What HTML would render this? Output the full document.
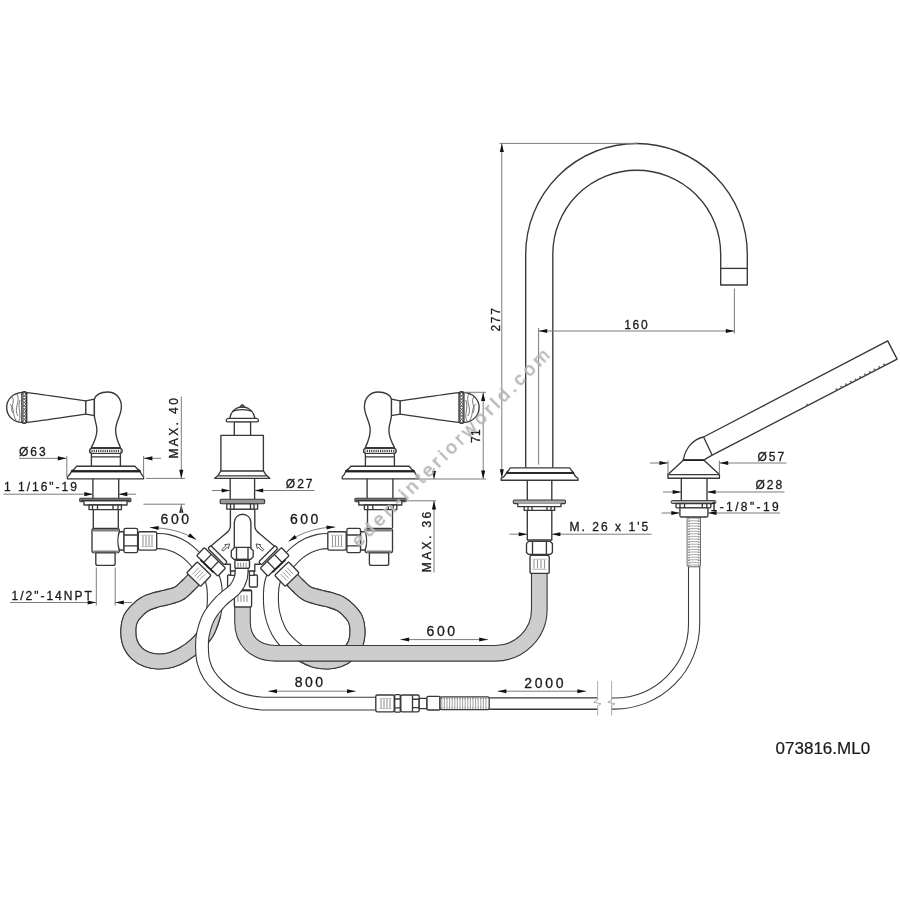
<!DOCTYPE html>
<html><head><meta charset="utf-8"><title>073816.ML0</title>
<style>
html,body{margin:0;padding:0;background:#fff}
body{width:900px;height:900px;overflow:hidden}
svg{display:block}
svg text{font-family:"Liberation Sans",sans-serif;fill:#1a1a1a;stroke:#1a1a1a;stroke-width:.3px}
.k{fill:none;stroke:#383838;stroke-width:1.35;stroke-linejoin:round;stroke-linecap:butt}
.w{fill:#fff}
.d{fill:none;stroke:#7c7c7c;stroke-width:1}
</style></head><body>
<svg width="900" height="900" viewBox="0 0 900 900">
<rect width="900" height="900" fill="#fff"/>
<g id="loopL">
<path d="M156.0,541.0 C157.8,541.1 163.0,541.0 166.7,541.8 C170.4,542.6 174.4,543.8 178.0,545.6 C181.6,547.4 185.3,549.9 188.5,552.5 C191.7,555.1 194.2,557.8 197.0,561.0 C199.8,564.2 203.7,570.2 205.0,572.0" fill="none" stroke="#383838" stroke-width="16.30" stroke-linecap="butt" stroke-linejoin="round"/><path d="M156.0,541.0 C157.8,541.1 163.0,541.0 166.7,541.8 C170.4,542.6 174.4,543.8 178.0,545.6 C181.6,547.4 185.3,549.9 188.5,552.5 C191.7,555.1 194.2,557.8 197.0,561.0 C199.8,564.2 203.7,570.2 205.0,572.0" fill="none" stroke="#fff" stroke-width="14.10" stroke-linecap="butt" stroke-linejoin="round"/>

<path d="M196.5,576.5 C195.1,578.0 191.0,582.7 188.0,585.5 C185.0,588.3 182.4,591.5 178.7,593.5 C175.0,595.5 169.9,596.4 166.0,597.5 C162.1,598.6 159.0,598.9 155.5,600.0 C152.0,601.1 148.0,602.3 145.0,604.0 C142.0,605.7 139.9,607.5 137.5,610.0 C135.1,612.5 132.0,615.7 130.5,619.0 C129.0,622.3 128.4,626.0 128.3,630.0 C128.2,634.0 128.6,639.1 130.0,643.0 C131.4,646.9 134.2,650.8 137.0,653.5 C139.8,656.2 143.5,658.2 147.0,659.5 C150.5,660.8 154.0,661.4 158.0,661.5 C162.0,661.6 166.8,661.2 171.0,660.0 C175.2,658.8 179.0,657.0 183.2,654.5 C187.4,652.0 192.0,648.8 196.0,645.0 C200.0,641.2 204.1,636.8 207.0,631.5 C209.9,626.2 212.3,619.4 213.6,613.0 C214.9,606.6 215.0,598.7 214.8,593.0 C214.6,587.3 214.0,583.2 212.5,579.0 C211.0,574.8 207.1,569.8 206.0,568.0" fill="none" stroke="#383838" stroke-width="16.10" stroke-linecap="butt" stroke-linejoin="round"/><path d="M196.5,576.5 C195.1,578.0 191.0,582.7 188.0,585.5 C185.0,588.3 182.4,591.5 178.7,593.5 C175.0,595.5 169.9,596.4 166.0,597.5 C162.1,598.6 159.0,598.9 155.5,600.0 C152.0,601.1 148.0,602.3 145.0,604.0 C142.0,605.7 139.9,607.5 137.5,610.0 C135.1,612.5 132.0,615.7 130.5,619.0 C129.0,622.3 128.4,626.0 128.3,630.0 C128.2,634.0 128.6,639.1 130.0,643.0 C131.4,646.9 134.2,650.8 137.0,653.5 C139.8,656.2 143.5,658.2 147.0,659.5 C150.5,660.8 154.0,661.4 158.0,661.5 C162.0,661.6 166.8,661.2 171.0,660.0 C175.2,658.8 179.0,657.0 183.2,654.5 C187.4,652.0 192.0,648.8 196.0,645.0 C200.0,641.2 204.1,636.8 207.0,631.5 C209.9,626.2 212.3,619.4 213.6,613.0 C214.9,606.6 215.0,598.7 214.8,593.0 C214.6,587.3 214.0,583.2 212.5,579.0 C211.0,574.8 207.1,569.8 206.0,568.0" fill="none" stroke="#fff" stroke-width="13.90" stroke-linecap="butt" stroke-linejoin="round"/>
<path d="M196.5,576.5 C195.1,578.0 191.0,582.7 188.0,585.5 C185.0,588.3 182.4,591.5 178.7,593.5 C175.0,595.5 169.9,596.4 166.0,597.5 C162.1,598.6 159.0,598.9 155.5,600.0 C152.0,601.1 148.0,602.3 145.0,604.0 C142.0,605.7 139.9,607.5 137.5,610.0 C135.1,612.5 132.0,615.7 130.5,619.0 C129.0,622.3 128.4,626.0 128.3,630.0 C128.2,634.0 128.6,639.1 130.0,643.0 C131.4,646.9 134.2,650.8 137.0,653.5 C139.8,656.2 143.5,658.2 147.0,659.5 C150.5,660.8 154.0,661.4 158.0,661.5 C162.0,661.6 166.8,661.2 171.0,660.0 C175.2,658.8 179.0,657.0 183.2,654.5 C187.4,652.0 192.0,648.8 196.0,645.0 C200.0,641.2 204.1,636.8 207.0,631.5 C209.9,626.2 212.5,616.1 213.6,613.0" fill="none" stroke="#383838" stroke-width="16.10" stroke-linecap="butt" stroke-linejoin="round"/><path d="M196.5,576.5 C195.1,578.0 191.0,582.7 188.0,585.5 C185.0,588.3 182.4,591.5 178.7,593.5 C175.0,595.5 169.9,596.4 166.0,597.5 C162.1,598.6 159.0,598.9 155.5,600.0 C152.0,601.1 148.0,602.3 145.0,604.0 C142.0,605.7 139.9,607.5 137.5,610.0 C135.1,612.5 132.0,615.7 130.5,619.0 C129.0,622.3 128.4,626.0 128.3,630.0 C128.2,634.0 128.6,639.1 130.0,643.0 C131.4,646.9 134.2,650.8 137.0,653.5 C139.8,656.2 143.5,658.2 147.0,659.5 C150.5,660.8 154.0,661.4 158.0,661.5 C162.0,661.6 166.8,661.2 171.0,660.0 C175.2,658.8 179.0,657.0 183.2,654.5 C187.4,652.0 192.0,648.8 196.0,645.0 C200.0,641.2 204.1,636.8 207.0,631.5 C209.9,626.2 212.5,616.1 213.6,613.0" fill="none" stroke="#cdcdcd" stroke-width="13.90" stroke-linecap="butt" stroke-linejoin="round"/>

</g>
<g id="loopR" transform="translate(485.8,0) scale(-1,1)">
<path d="M156.0,541.0 C157.8,541.1 163.0,541.0 166.7,541.8 C170.4,542.6 174.4,543.8 178.0,545.6 C181.6,547.4 185.3,549.9 188.5,552.5 C191.7,555.1 194.2,557.8 197.0,561.0 C199.8,564.2 203.7,570.2 205.0,572.0" fill="none" stroke="#383838" stroke-width="16.30" stroke-linecap="butt" stroke-linejoin="round"/><path d="M156.0,541.0 C157.8,541.1 163.0,541.0 166.7,541.8 C170.4,542.6 174.4,543.8 178.0,545.6 C181.6,547.4 185.3,549.9 188.5,552.5 C191.7,555.1 194.2,557.8 197.0,561.0 C199.8,564.2 203.7,570.2 205.0,572.0" fill="none" stroke="#fff" stroke-width="14.10" stroke-linecap="butt" stroke-linejoin="round"/>

<path d="M196.5,576.5 C195.1,578.0 191.0,582.7 188.0,585.5 C185.0,588.3 182.4,591.5 178.7,593.5 C175.0,595.5 169.9,596.4 166.0,597.5 C162.1,598.6 159.0,598.9 155.5,600.0 C152.0,601.1 148.0,602.3 145.0,604.0 C142.0,605.7 139.9,607.5 137.5,610.0 C135.1,612.5 132.0,615.7 130.5,619.0 C129.0,622.3 128.4,626.0 128.3,630.0 C128.2,634.0 128.6,639.1 130.0,643.0 C131.4,646.9 134.2,650.8 137.0,653.5 C139.8,656.2 143.5,658.2 147.0,659.5 C150.5,660.8 154.0,661.4 158.0,661.5 C162.0,661.6 166.8,661.2 171.0,660.0 C175.2,658.8 179.0,657.0 183.2,654.5 C187.4,652.0 192.0,648.8 196.0,645.0 C200.0,641.2 204.1,636.8 207.0,631.5 C209.9,626.2 212.3,619.4 213.6,613.0 C214.9,606.6 215.0,598.7 214.8,593.0 C214.6,587.3 214.0,583.2 212.5,579.0 C211.0,574.8 207.1,569.8 206.0,568.0" fill="none" stroke="#383838" stroke-width="16.10" stroke-linecap="butt" stroke-linejoin="round"/><path d="M196.5,576.5 C195.1,578.0 191.0,582.7 188.0,585.5 C185.0,588.3 182.4,591.5 178.7,593.5 C175.0,595.5 169.9,596.4 166.0,597.5 C162.1,598.6 159.0,598.9 155.5,600.0 C152.0,601.1 148.0,602.3 145.0,604.0 C142.0,605.7 139.9,607.5 137.5,610.0 C135.1,612.5 132.0,615.7 130.5,619.0 C129.0,622.3 128.4,626.0 128.3,630.0 C128.2,634.0 128.6,639.1 130.0,643.0 C131.4,646.9 134.2,650.8 137.0,653.5 C139.8,656.2 143.5,658.2 147.0,659.5 C150.5,660.8 154.0,661.4 158.0,661.5 C162.0,661.6 166.8,661.2 171.0,660.0 C175.2,658.8 179.0,657.0 183.2,654.5 C187.4,652.0 192.0,648.8 196.0,645.0 C200.0,641.2 204.1,636.8 207.0,631.5 C209.9,626.2 212.3,619.4 213.6,613.0 C214.9,606.6 215.0,598.7 214.8,593.0 C214.6,587.3 214.0,583.2 212.5,579.0 C211.0,574.8 207.1,569.8 206.0,568.0" fill="none" stroke="#fff" stroke-width="13.90" stroke-linecap="butt" stroke-linejoin="round"/>
<path d="M196.5,576.5 C195.1,578.0 191.0,582.7 188.0,585.5 C185.0,588.3 182.4,591.5 178.7,593.5 C175.0,595.5 169.9,596.4 166.0,597.5 C162.1,598.6 159.0,598.9 155.5,600.0 C152.0,601.1 148.0,602.3 145.0,604.0 C142.0,605.7 139.9,607.5 137.5,610.0 C135.1,612.5 132.0,615.7 130.5,619.0 C129.0,622.3 128.4,626.0 128.3,630.0 C128.2,634.0 128.6,639.1 130.0,643.0 C131.4,646.9 134.2,650.8 137.0,653.5 C139.8,656.2 143.5,658.2 147.0,659.5 C150.5,660.8 154.0,661.4 158.0,661.5 C162.0,661.6 166.8,661.2 171.0,660.0 C175.2,658.8 181.2,655.4 183.2,654.5" fill="none" stroke="#383838" stroke-width="16.10" stroke-linecap="butt" stroke-linejoin="round"/><path d="M196.5,576.5 C195.1,578.0 191.0,582.7 188.0,585.5 C185.0,588.3 182.4,591.5 178.7,593.5 C175.0,595.5 169.9,596.4 166.0,597.5 C162.1,598.6 159.0,598.9 155.5,600.0 C152.0,601.1 148.0,602.3 145.0,604.0 C142.0,605.7 139.9,607.5 137.5,610.0 C135.1,612.5 132.0,615.7 130.5,619.0 C129.0,622.3 128.4,626.0 128.3,630.0 C128.2,634.0 128.6,639.1 130.0,643.0 C131.4,646.9 134.2,650.8 137.0,653.5 C139.8,656.2 143.5,658.2 147.0,659.5 C150.5,660.8 154.0,661.4 158.0,661.5 C162.0,661.6 166.8,661.2 171.0,660.0 C175.2,658.8 181.2,655.4 183.2,654.5" fill="none" stroke="#cdcdcd" stroke-width="13.90" stroke-linecap="butt" stroke-linejoin="round"/>

</g>
<path d="M242.5,600 L242.5,622 C242.5,640 254,653.3 276,653.3 L495.5,653.3 A43.8,43.8 0 0 0 539.3,609.4 L539.3,570" fill="none" stroke="#383838" stroke-width="16.70" stroke-linecap="butt" stroke-linejoin="round"/><path d="M242.5,600 L242.5,622 C242.5,640 254,653.3 276,653.3 L495.5,653.3 A43.8,43.8 0 0 0 539.3,609.4 L539.3,570" fill="none" stroke="#cdcdcd" stroke-width="14.50" stroke-linecap="butt" stroke-linejoin="round"/>

<g id="hvL"><path d="M26.3,392.6 C45,394.5 68,398.5 85.8,400.9 L85.8,414.1 C68,416.5 45,420.5 26.3,422.4 Z" class="k w"/>
<path d="M85.8,400.9 L94.4,399.2 L94.4,415.7 L85.8,414.1 Z" class="k w"/>
<path d="M22.6,392.4 C12,393 6.7,400 6.7,407.5 C6.7,415 12,422 22.6,422.6 Z" class="k w"/>
<path d="M12,397 C16,402 9,408 13,413 M17,394 C21,401 13,409 18,416 M10,404 C15,409 12,414 16,420 M20,400 C17,408 22,414 19,421" fill="none" stroke="#444" stroke-width=".7"/>
<rect x="21.9" y="391.7" width="4.8" height="31.6" rx="2.2" class="k w" stroke-width="1.1"/>
<g fill="#fff" stroke="#333" stroke-width=".9"><circle cx="24.3" cy="394.1" r="1.45"/><circle cx="24.3" cy="397.5" r="1.45"/><circle cx="24.3" cy="400.8" r="1.45"/><circle cx="24.3" cy="404.2" r="1.45"/><circle cx="24.3" cy="407.6" r="1.45"/><circle cx="24.3" cy="411.0" r="1.45"/><circle cx="24.3" cy="414.3" r="1.45"/><circle cx="24.3" cy="417.7" r="1.45"/><circle cx="24.3" cy="421.1" r="1.45"/></g>
<path d="M91.3,447.6 C93.8,443 96.9,437 96.9,430 C96.9,424 94.4,420 94.4,415.8 L94.4,399.2 C96,394.6 101,392 107.5,392 C116,392 121.4,398.5 121.4,406.7 C121.4,415 115.6,422 115.6,430 C115.6,437 118.3,443 120.5,447.6 Z" class="k w"/>
<rect x="89.6" y="448.3" width="32.6" height="5" rx="2.5" class="k w"/>
<path d="M91.5,450.8 L120.5,450.8" stroke="#333" stroke-width="2.2" stroke-dasharray="1.1 1.1" fill="none"/>
<path d="M91.4,453.3 L91.4,466.2 M120.4,453.3 L120.4,466.2 M91.4,456.8 L120.4,456.8" class="k"/>
<path d="M76.7,466.2 L134.9,466.2 C136.2,468.2 138,470 140.2,470.9 L71.5,470.9 C73.7,470 75.4,468.2 76.7,466.2 Z" class="k w"/>
<path d="M71.5,471.6 C70.3,474 69.2,475.6 67.4,476.8 L67.4,478.8 L143.6,478.8 L143.6,476.8 C142,475.6 141,474 140.2,471.6 Z" class="k w"/>
<path d="M71.3,471.3 L140.4,471.3" stroke="#222" stroke-width="2" fill="none"/>
<path d="M92.9,478.8 L92.9,498.3 M118.7,478.8 L118.7,498.3" class="k"/>
<rect x="79.7" y="498.3" width="51.2" height="3.4" rx="1" fill="#8c8c8c" stroke="#383838" stroke-width="1.1"/><path d="M81,500.6 L129.6,500.6" stroke="#333" stroke-width="1.5" fill="none"/>
<path d="M84,501.5 L84,505 L127,505 L127,501.5" class="k w"/>
<rect x="89" y="505" width="32.4" height="4.6" class="k w"/>
<path d="M92.5,505 L92.5,509.6 M97.5,505 L97.5,509.6 M113,505 L113,509.6 M118,505 L118,509.6" class="k" stroke-width=".9"/>
<path d="M93.3,509.6 L93.3,528.3 M118.3,509.6 L118.3,528.3" class="k"/><rect x="92" y="528.3" width="27.3" height="24.3" rx="2.2" class="k w"/>
<path d="M92.8,530.3 L118.5,530.3 M93.5,551.8 L117.8,551.8" stroke="#808080" stroke-width="2.6" fill="none"/>
<path d="M95.8,552.8 L95.8,563.5 Q95.8,565.4 97.7,565.4 L113.2,565.4 Q115.1,565.4 115.1,563.5 L115.1,552.8 Z" class="k w"/>
<path d="M119.3,531.7 C117.5,537 117.5,545 119.3,550 L124,550 L124,531.7 Z" class="k w"/>
<rect x="124" y="528.3" width="13.6" height="24.3" rx="1.6" class="k w"/>
<path d="M124,535 L137.6,535 M124,545.8 L137.6,545.8" class="k" stroke-width="1"/>
<rect x="138.3" y="531.7" width="18.4" height="18.4" rx="1.5" class="k w"/>
<path d="M143,536 L143,546 M146,536 L146,546 M149,536 L149,546 M152,536 L152,546" stroke="#999" stroke-width="1.1" fill="none"/>
<path d="M141.5,535.3 L153.5,535.3 M141.5,546.6 L153.5,546.6" stroke="#aaa" stroke-width=".8" fill="none"/></g>
<g id="hvR" transform="translate(485.8,0) scale(-1,1)"><path d="M26.3,392.6 C45,394.5 68,398.5 85.8,400.9 L85.8,414.1 C68,416.5 45,420.5 26.3,422.4 Z" class="k w"/>
<path d="M85.8,400.9 L94.4,399.2 L94.4,415.7 L85.8,414.1 Z" class="k w"/>
<path d="M22.6,392.4 C12,393 6.7,400 6.7,407.5 C6.7,415 12,422 22.6,422.6 Z" class="k w"/>
<path d="M12,397 C16,402 9,408 13,413 M17,394 C21,401 13,409 18,416 M10,404 C15,409 12,414 16,420 M20,400 C17,408 22,414 19,421" fill="none" stroke="#444" stroke-width=".7"/>
<rect x="21.9" y="391.7" width="4.8" height="31.6" rx="2.2" class="k w" stroke-width="1.1"/>
<g fill="#fff" stroke="#333" stroke-width=".9"><circle cx="24.3" cy="394.1" r="1.45"/><circle cx="24.3" cy="397.5" r="1.45"/><circle cx="24.3" cy="400.8" r="1.45"/><circle cx="24.3" cy="404.2" r="1.45"/><circle cx="24.3" cy="407.6" r="1.45"/><circle cx="24.3" cy="411.0" r="1.45"/><circle cx="24.3" cy="414.3" r="1.45"/><circle cx="24.3" cy="417.7" r="1.45"/><circle cx="24.3" cy="421.1" r="1.45"/></g>
<path d="M91.3,447.6 C93.8,443 96.9,437 96.9,430 C96.9,424 94.4,420 94.4,415.8 L94.4,399.2 C96,394.6 101,392 107.5,392 C116,392 121.4,398.5 121.4,406.7 C121.4,415 115.6,422 115.6,430 C115.6,437 118.3,443 120.5,447.6 Z" class="k w"/>
<rect x="89.6" y="448.3" width="32.6" height="5" rx="2.5" class="k w"/>
<path d="M91.5,450.8 L120.5,450.8" stroke="#333" stroke-width="2.2" stroke-dasharray="1.1 1.1" fill="none"/>
<path d="M91.4,453.3 L91.4,466.2 M120.4,453.3 L120.4,466.2 M91.4,456.8 L120.4,456.8" class="k"/>
<path d="M76.7,466.2 L134.9,466.2 C136.2,468.2 138,470 140.2,470.9 L71.5,470.9 C73.7,470 75.4,468.2 76.7,466.2 Z" class="k w"/>
<path d="M71.5,471.6 C70.3,474 69.2,475.6 67.4,476.8 L67.4,478.8 L143.6,478.8 L143.6,476.8 C142,475.6 141,474 140.2,471.6 Z" class="k w"/>
<path d="M71.3,471.3 L140.4,471.3" stroke="#222" stroke-width="2" fill="none"/>
<path d="M92.9,478.8 L92.9,498.3 M118.7,478.8 L118.7,498.3" class="k"/>
<rect x="79.7" y="498.3" width="51.2" height="3.4" rx="1" fill="#8c8c8c" stroke="#383838" stroke-width="1.1"/><path d="M81,500.6 L129.6,500.6" stroke="#333" stroke-width="1.5" fill="none"/>
<path d="M84,501.5 L84,505 L127,505 L127,501.5" class="k w"/>
<rect x="89" y="505" width="32.4" height="4.6" class="k w"/>
<path d="M92.5,505 L92.5,509.6 M97.5,505 L97.5,509.6 M113,505 L113,509.6 M118,505 L118,509.6" class="k" stroke-width=".9"/>
<path d="M93.3,509.6 L93.3,528.3 M118.3,509.6 L118.3,528.3" class="k"/></g>
<g id="vR" transform="translate(484.5,0) scale(-1,1)"><rect x="92" y="528.3" width="27.3" height="24.3" rx="2.2" class="k w"/>
<path d="M92.8,530.3 L118.5,530.3 M93.5,551.8 L117.8,551.8" stroke="#808080" stroke-width="2.6" fill="none"/>
<path d="M95.8,552.8 L95.8,563.5 Q95.8,565.4 97.7,565.4 L113.2,565.4 Q115.1,565.4 115.1,563.5 L115.1,552.8 Z" class="k w"/>
<path d="M119.3,531.7 C117.5,537 117.5,545 119.3,550 L124,550 L124,531.7 Z" class="k w"/>
<rect x="124" y="528.3" width="13.6" height="24.3" rx="1.6" class="k w"/>
<path d="M124,535 L137.6,535 M124,545.8 L137.6,545.8" class="k" stroke-width="1"/>
<rect x="138.3" y="531.7" width="18.4" height="18.4" rx="1.5" class="k w"/>
<path d="M143,536 L143,546 M146,536 L146,546 M149,536 L149,546 M152,536 L152,546" stroke="#999" stroke-width="1.1" fill="none"/>
<path d="M141.5,535.3 L153.5,535.3 M141.5,546.6 L153.5,546.6" stroke="#aaa" stroke-width=".8" fill="none"/></g>
<path d="M230.4,509.4 L230.4,526 C230.4,529.8 228.4,531.6 225.8,533.6 L208.6,548 L225,564.2 L230.4,564.2 L230.4,571.5 L254.8,571.5 L254.8,564.2 L260.2,564.2 L276.6,548 L259.4,533.6 C256.8,531.6 254.8,529.8 254.8,526 L254.8,509.4 Z" class="k w"/>
<path d="M234.3,548 L234.3,522.5 A8.3,8.3 0 0 1 250.9,522.5 L250.9,548" class="k"/>
<path d="M-4.5,-1 L1,-1 L1,-2.6 L5,0 L1,2.6 L1,1 L-4.5,1 Z" transform="translate(225.8,547.3) rotate(-42.0)" fill="#fff" stroke="#333" stroke-width=".8"/>
<path d="M-4.5,-1 L1,-1 L1,-2.6 L5,0 L1,2.6 L1,1 L-4.5,1 Z" transform="translate(259.8,547.3) rotate(-138.0)" fill="#fff" stroke="#333" stroke-width=".8"/>
<rect x="227.6" y="575" width="7.6" height="12" rx="1" class="k w"/><rect x="249.4" y="575" width="8" height="12" rx="1" class="k w"/>
<rect x="230.6" y="571" width="4.6" height="4.4" class="k w"/><rect x="249.4" y="571" width="4.6" height="4.4" class="k w"/>
<rect x="234.4" y="589.8" width="17.2" height="17.2" rx="1.5" class="k w"/>
<path d="M238,595 L238,602 M241,595 L241,602 M244,595 L244,602 M247,595 L247,602" stroke="#999" stroke-width="1.1" fill="none"/>
<path d="M235,590.6 L251,590.6" stroke="#333" stroke-width="1.6" fill="none"/>
<g id="portL"><rect x="205.9" y="553.2" width="23.2" height="4.0" rx="1.3" transform="rotate(45.0 217.5 555.2)" class="k w" />
<rect x="196.3" y="556.3" width="29.6" height="11.2" rx="1.3" transform="rotate(44.0 211.1 561.9)" class="k w" />
<path d="M203.6,562.5 L211.4,554.4" class="k" stroke-width="1"/>
<path d="M210.8,569.4 L218.6,561.3" class="k" stroke-width="1"/>
<path d="M213.5,572.4 L200.5,559.9" stroke="#222" stroke-width="1.8" fill="none"/>
<rect x="189.2" y="566.4" width="19.4" height="15.4" rx="1.3" transform="rotate(44.0 198.9 574.1)" class="k w" />
<path d="M192.5,574.2 L198.8,567.7" stroke="#999" stroke-width="1" fill="none"/>
<path d="M194.7,576.3 L200.9,569.8" stroke="#999" stroke-width="1" fill="none"/>
<path d="M196.9,578.4 L203.1,571.9" stroke="#999" stroke-width="1" fill="none"/>
<path d="M199.0,580.5 L205.3,574.0" stroke="#999" stroke-width="1" fill="none"/></g>
<g id="portR" transform="translate(485.8,0) scale(-1,1)"><rect x="205.9" y="553.2" width="23.2" height="4.0" rx="1.3" transform="rotate(45.0 217.5 555.2)" class="k w" />
<rect x="196.3" y="556.3" width="29.6" height="11.2" rx="1.3" transform="rotate(44.0 211.1 561.9)" class="k w" />
<path d="M203.6,562.5 L211.4,554.4" class="k" stroke-width="1"/>
<path d="M210.8,569.4 L218.6,561.3" class="k" stroke-width="1"/>
<path d="M213.5,572.4 L200.5,559.9" stroke="#222" stroke-width="1.8" fill="none"/>
<rect x="189.2" y="566.4" width="19.4" height="15.4" rx="1.3" transform="rotate(44.0 198.9 574.1)" class="k w" />
<path d="M192.5,574.2 L198.8,567.7" stroke="#999" stroke-width="1" fill="none"/>
<path d="M194.7,576.3 L200.9,569.8" stroke="#999" stroke-width="1" fill="none"/>
<path d="M196.9,578.4 L203.1,571.9" stroke="#999" stroke-width="1" fill="none"/>
<path d="M199.0,580.5 L205.3,574.0" stroke="#999" stroke-width="1" fill="none"/></g>
<path d="M241.8,566.0 C241.6,568.0 241.9,574.2 240.8,578.0 C239.7,581.8 238.3,585.2 235.0,589.0 C231.7,592.8 225.3,596.4 221.0,601.0 C216.7,605.6 212.0,611.0 209.0,616.5 C206.0,622.0 204.2,628.8 203.0,634.0 C201.8,639.2 201.9,643.3 202.0,648.0 C202.1,652.7 202.3,657.5 203.5,662.0 C204.7,666.5 206.4,670.9 209.0,675.0 C211.6,679.1 215.2,683.1 219.0,686.5 C222.8,689.9 227.2,693.1 231.5,695.5 C235.8,697.9 240.2,699.5 245.0,700.8 C249.8,702.1 254.2,702.8 260.0,703.3 C265.8,703.8 273.3,703.5 280.0,703.6 C286.7,703.7 296.7,703.6 300.0,703.6 L376,703.6" fill="none" stroke="#383838" stroke-width="13.90" stroke-linecap="butt" stroke-linejoin="round"/><path d="M241.8,566.0 C241.6,568.0 241.9,574.2 240.8,578.0 C239.7,581.8 238.3,585.2 235.0,589.0 C231.7,592.8 225.3,596.4 221.0,601.0 C216.7,605.6 212.0,611.0 209.0,616.5 C206.0,622.0 204.2,628.8 203.0,634.0 C201.8,639.2 201.9,643.3 202.0,648.0 C202.1,652.7 202.3,657.5 203.5,662.0 C204.7,666.5 206.4,670.9 209.0,675.0 C211.6,679.1 215.2,683.1 219.0,686.5 C222.8,689.9 227.2,693.1 231.5,695.5 C235.8,697.9 240.2,699.5 245.0,700.8 C249.8,702.1 254.2,702.8 260.0,703.3 C265.8,703.8 273.3,703.5 280.0,703.6 C286.7,703.7 296.7,703.6 300.0,703.6 L376,703.6" fill="none" stroke="#fff" stroke-width="11.70" stroke-linecap="butt" stroke-linejoin="round"/>

<path d="M234.8,547.3 L249.8,547.3 L253.2,550.8 L253.2,556.8 L250.5,559.4 L234,559.4 L231.3,556.8 L231.3,550.8 Z" class="k w"/>
<path d="M236.5,547.3 L236.5,559.4 M248,547.3 L248,559.4" class="k" stroke-width="1"/>
<rect x="234.9" y="559.4" width="14.6" height="8.8" rx="1.2" class="k w"/>
<path d="M235.5,560.3 L249,560.3" stroke="#333" stroke-width="1.5" fill="none"/>
<path d="M238,562.5 L238,567 M240.7,562.5 L240.7,567 M243.4,562.5 L243.4,567 M246.1,562.5 L246.1,567" stroke="#888" stroke-width="1" fill="none"/>
<path d="M230.2,478.4 L230.2,499.2 M254.6,478.4 L254.6,499.2" class="k"/>
<rect x="220.1" y="499.2" width="44.6" height="4.6" rx="1.2" fill="#999" stroke="#383838" stroke-width="1.1"/>
<rect x="226.8" y="503.8" width="30.8" height="5.4" class="k w"/>
<path d="M230.5,503.8 L230.5,509.2 M234,503.8 L234,509.2 M250.5,503.8 L250.5,509.2 M254,503.8 L254,509.2" class="k" stroke-width=".9"/>
<path d="M214.7,478.4 L269.8,478.4 C267,476.5 264.5,473.5 263.4,470.8 L220.9,470.8 C219.8,473.5 217.5,476.5 214.7,478.4 Z" class="k w"/>
<path d="M217.8,475.9 L266.6,475.9" class="k" stroke-width="1"/>
<rect x="220.9" y="435.3" width="42.5" height="35.5" class="k w"/>
<rect x="234.3" y="421.6" width="16.3" height="13.7" class="k w"/>
<path d="M227.8,421.8 Q226,421.8 226.3,420 Q226.6,418.4 228.3,418.3 L256.4,418.3 Q258.1,418.4 258.4,420 Q258.7,421.8 256.9,421.8 Z" class="k w"/>
<path d="M229.8,418.3 C230.5,412 235,408 240.2,407 L244.4,407 C249.6,408 254.1,412 254.8,418.3 Z" class="k w"/>
<path d="M233,411.3 C237,409 247.6,409 251.6,411.3" class="k" stroke-width=".9"/>
<path d="M240.2,407 Q242.3,402.5 244.4,407 Z" class="k w"/>
<path d="M525.7,467.8 L525.7,254.2 A110.8,110.8 0 0 1 747.3,254.2 L747.3,285 L720.7,285 L720.7,254.2 A83.95,83.95 0 0 0 552.8,254.2 L552.8,467.8" class="k w"/>
<path d="M720.7,268.4 L747.3,268.4" class="k"/>
<path d="M510.3,467.8 L569.7,467.8 C570.6,469.6 572,471.4 573.6,472.6 L506.4,472.6 C508,471.4 509.4,469.6 510.3,467.8 Z" class="k w"/>
<path d="M506.4,473.4 C505.2,475.6 503.4,477.4 501.2,478.4 L501.2,480.2 L578,480.2 L578,478.4 C575.8,477.4 574.6,475.6 573.6,473.4 Z" class="k w"/>
<path d="M506.2,473 L573.8,473" stroke="#222" stroke-width="1.8" stroke-dasharray="1.2 .7" fill="none"/>
<path d="M527.3,480.2 L527.3,500 M551.8,480.2 L551.8,500" class="k"/>
<rect x="513.3" y="500" width="52.2" height="3.6" rx="1.2" fill="#aaa" stroke="#383838" stroke-width="1.1"/>
<path d="M517.8,503.6 L517.8,506.6 L561,506.6 L561,503.6" class="k w"/>
<rect x="524.2" y="506.6" width="30.4" height="3.8" class="k w"/>
<path d="M528,506.6 L528,510.4 M532,506.6 L532,510.4 M547,506.6 L547,510.4 M551,506.6 L551,510.4" class="k" stroke-width=".9"/>
<path d="M527.3,510.4 L527.3,540 L551.8,540 L551.8,510.4" class="k"/>
<path d="M528.6,541.4 L550.2,541.4 L552.4,543.6 L552.4,552.4 L550.2,554.4 L528.6,554.4 L526.5,552.4 L526.5,543.6 Z" class="k w"/>
<path d="M532.5,541.4 L532.5,554.4 M546.4,541.4 L546.4,554.4" class="k" stroke-width="1"/>
<rect x="530" y="555.4" width="19.2" height="18" rx="1.5" class="k w"/>
<path d="M534,560 L534,568.5 M537.5,560 L537.5,568.5 M541,560 L541,568.5 M544.5,560 L544.5,568.5" stroke="#999" stroke-width="1.1" fill="none"/>
<path d="M532.5,559.3 L546.5,559.3 M532.5,569.3 L546.5,569.3" stroke="#aaa" stroke-width=".8" fill="none"/>
<path d="M611.6,703.5 L614.6,703.5 A79.5,79.5 0 0 0 694.1,624 L694.1,560" fill="none" stroke="#383838" stroke-width="12.25" stroke-linecap="butt" stroke-linejoin="round"/><path d="M611.6,703.5 L614.6,703.5 A79.5,79.5 0 0 0 694.1,624 L694.1,560" fill="none" stroke="#fff" stroke-width="10.15" stroke-linecap="butt" stroke-linejoin="round"/>

<rect x="687.1" y="516.8" width="13.4" height="50" rx="1.5" fill="#fff" stroke="#5a5a5a" stroke-width=".9"/>
<path d="M689,518 L689,566" stroke="#666" stroke-width="1.4" stroke-dasharray="1.3 1.3" fill="none"/><path d="M698.8,518 L698.8,566" stroke="#666" stroke-width="1.4" stroke-dasharray="1.3 1.3" fill="none"/>
<path d="M690,519 L697.8,519" stroke="#999" stroke-width="50" stroke-dasharray="none" fill="none" opacity="0"/>
<path d="M689.2,518.2 L698.6,518.2 M689.2,520.8 L698.6,520.8 M689.2,523.4 L698.6,523.4 M689.2,526.0 L698.6,526.0 M689.2,528.6 L698.6,528.6 M689.2,531.2 L698.6,531.2 M689.2,533.8 L698.6,533.8 M689.2,536.4 L698.6,536.4 M689.2,539.0 L698.6,539.0 M689.2,541.6 L698.6,541.6 M689.2,544.2 L698.6,544.2 M689.2,546.8 L698.6,546.8 M689.2,549.4 L698.6,549.4 M689.2,552.0 L698.6,552.0 M689.2,554.6 L698.6,554.6 M689.2,557.2 L698.6,557.2 M689.2,559.8 L698.6,559.8 M689.2,562.4 L698.6,562.4 M689.2,565.0 L698.6,565.0 " stroke="#aaa" stroke-width="1" fill="none"/>
<path d="M683.3,460.2 C685.5,447 694,439 703.6,437 L887.7,340.9 L897.1,359.1 L712.2,455.2 C709,457 706,458.5 703.8,460.2 Z" class="k w"/>
<path d="M703.6,437 L712.2,455.2" class="k"/>
<circle cx="836.5" cy="389.2" r="1" fill="#666"/><circle cx="841.2" cy="386.7" r="1" fill="#666"/><circle cx="846.0" cy="384.3" r="1" fill="#666"/><circle cx="850.8" cy="381.8" r="1" fill="#666"/><circle cx="855.5" cy="379.4" r="1" fill="#666"/><circle cx="860.2" cy="376.9" r="1" fill="#666"/><circle cx="865.0" cy="374.4" r="1" fill="#666"/><circle cx="869.8" cy="372.0" r="1" fill="#666"/><circle cx="874.5" cy="369.5" r="1" fill="#666"/><circle cx="879.2" cy="367.1" r="1" fill="#666"/><circle cx="884.0" cy="364.6" r="1" fill="#666"/>
<circle cx="807" cy="404.6" r=".8" fill="#555"/><circle cx="764" cy="406.2" r=".6" fill="#777"/>
<path d="M683.3,460.2 L704,460.2 L719.4,474.6 L668,474.6 Z" class="k w"/>
<path d="M683.3,460.2 L704,460.2" stroke="#222" stroke-width="1.6" fill="none"/>
<rect x="668" y="474.6" width="51.4" height="3.6" class="k w"/>
<path d="M681.3,478.2 L681.3,500.6 M707,478.2 L707,500.6" class="k"/>
<rect x="671.2" y="500.6" width="44.6" height="2.9" rx="1" fill="#bbb" stroke="#383838" stroke-width="1"/>
<rect x="676" y="503.5" width="34.8" height="4.4" rx=".8" class="k w"/>
<path d="M680,503.5 L680,507.9 M684.5,503.5 L684.5,507.9 M702.3,503.5 L702.3,507.9 M706.8,503.5 L706.8,507.9" class="k" stroke-width=".9"/>
<path d="M679.9,507.9 L679.9,515.4 Q679.9,517 681.5,517 L706.3,517 Q707.9,517 707.9,515.4 L707.9,507.9 Z" class="k w"/>
<path d="M489.2,697.9 L597.6,697.9 M489.2,709.2 L597.6,709.2" class="k" stroke-width="1.1"/>
<rect x="375.8" y="695" width="18.4" height="16.8" rx="1.5" class="k w"/>
<path d="M381,699 L381,708 M384,699 L384,708 M387,699 L387,708 M390,699 L390,708" stroke="#999" stroke-width="1.1" fill="none"/>
<path d="M379.5,698.4 L391.5,698.4 M379.5,708.6 L391.5,708.6" stroke="#aaa" stroke-width=".8" fill="none"/>
<rect x="394.7" y="694.6" width="5.6" height="17.6" rx="1" class="k w"/>
<path d="M394.7,699 L400.3,699 M394.7,707.8 L400.3,707.8" class="k" stroke-width=".9"/>
<rect x="400.8" y="695" width="18.4" height="16.8" rx="1.5" class="k w"/>
<path d="M412.5,695 L412.5,711.8 M412.5,699.2 L419.2,699.2 M412.5,707.6 L419.2,707.6" class="k" stroke-width="1"/>
<rect x="419.2" y="698.4" width="7.8" height="10.2" class="k w" stroke-width="1"/>
<rect x="427" y="696.4" width="13" height="13.6" rx="1" class="k w"/>
<rect x="440" y="696.8" width="49.2" height="12.8" rx="1.5" class="k w" stroke-width="1"/>
<path d="M441.8,698.4 L441.8,708 M444.4,698.4 L444.4,708 M447.0,698.4 L447.0,708 M449.6,698.4 L449.6,708 M452.2,698.4 L452.2,708 M454.8,698.4 L454.8,708 M457.4,698.4 L457.4,708 M460.0,698.4 L460.0,708 M462.6,698.4 L462.6,708 M465.2,698.4 L465.2,708 M467.8,698.4 L467.8,708 M470.4,698.4 L470.4,708 M473.0,698.4 L473.0,708 M475.6,698.4 L475.6,708 M478.2,698.4 L478.2,708 M480.8,698.4 L480.8,708 M483.4,698.4 L483.4,708 M486.0,698.4 L486.0,708 M488.6,698.4 L488.6,708 " stroke="#aaa" stroke-width="1.1" fill="none"/>
<path d="M441,698.4 L488.4,698.4 M441,708 L488.4,708" stroke="#777" stroke-width="1.2" stroke-dasharray="1.3 1.3" fill="none"/>
<path d="M597.6,681 L597.6,700 L593.8,702.2 L601,703.8 L597.6,705.8 L597.6,715.5 M611.6,681 L611.6,700 L607.8,702.2 L615,703.8 L611.6,705.8 L611.6,715.5" stroke="#999" stroke-width=".8" fill="none"/>
<g id="dims" style="opacity:.999"><path d="M19.0,458.3 L66.0,458.3" class="d"/>
<path d="M66.4,458.3 L57.8,460.4 L57.8,456.2 Z" fill="#111" stroke="none"/>
<path d="M66.8,456.0 L66.8,476.5" class="d"/>
<path d="M144.0,458.3 L161.0,458.3" class="d"/>
<path d="M143.8,458.3 L152.4,456.2 L152.4,460.4 Z" fill="#111" stroke="none"/>
<path d="M143.6,456.0 L143.6,476.5" class="d"/>
<text x="19.0" y="455.8" font-size="12" letter-spacing="2" text-anchor="start">Ø63</text>
<path d="M3.5,494.2 L92.5,494.2" class="d"/>
<path d="M92.9,494.2 L84.3,496.2 L84.3,492.1 Z" fill="#111" stroke="none"/>
<path d="M118.7,494.2 L136.0,494.2" class="d"/>
<path d="M118.7,494.2 L127.3,492.1 L127.3,496.2 Z" fill="#111" stroke="none"/>
<text x="4.0" y="491.0" font-size="12" letter-spacing="2" text-anchor="start">1 1/16&quot;-19</text>
<path d="M10.0,602.5 L96.0,602.5" class="d"/>
<path d="M96.2,602.5 L87.6,604.5 L87.6,600.5 Z" fill="#111" stroke="none"/>
<path d="M115.2,602.5 L132.0,602.5" class="d"/>
<path d="M115.2,602.5 L123.8,600.5 L123.8,604.5 Z" fill="#111" stroke="none"/>
<path d="M96.3,567.5 L96.3,605.5" class="d"/>
<path d="M115.2,567.5 L115.2,605.5" class="d"/>
<text x="11.5" y="599.8" font-size="12" letter-spacing="2" text-anchor="start">1/2&quot;-14NPT</text>
<path d="M181.3,396.5 L181.3,478.4" class="d"/>
<path d="M181.3,478.4 L179.2,469.8 L183.4,469.8 Z" fill="#111" stroke="none"/>
<path d="M146.0,478.4 L185.0,478.4" class="d"/>
<path d="M143.4,504.2 L185.0,504.2" class="d"/>
<path d="M181.3,504.2 L183.4,512.8 L179.2,512.8 Z" fill="#111" stroke="none"/>
<path d="M181.3,504.2 L181.3,513.0" class="d"/>
<text x="178.4" y="458.6" font-size="12" letter-spacing="2.4" text-anchor="start" transform="rotate(-90 178.4 458.6)">MAX. 40</text>
<text x="160.6" y="524.2" font-size="14" letter-spacing="2.5" text-anchor="start">600</text>
<path d="M150,527.6 C167,527.5 184,532 196.2,539.6" class="d" fill="none"/>
<path d="M150.0,527.6 L158.7,526.0 L158.5,530.1 Z" fill="#111" stroke="none"/>
<path d="M196.2,539.6 L187.8,536.8 L190.0,533.3 Z" fill="#111" stroke="none"/>
<text x="290.0" y="524.2" font-size="14" letter-spacing="2.5" text-anchor="start">600</text>
<path d="M335.2,527 C318,527.3 301,532.5 288.6,541.4" class="d" fill="none"/>
<path d="M335.2,527.0 L326.7,529.5 L326.5,525.4 Z" fill="#111" stroke="none"/>
<path d="M288.6,541.4 L294.6,534.9 L296.9,538.3 Z" fill="#111" stroke="none"/>
<path d="M212.0,490.5 L230.0,490.5" class="d"/>
<path d="M230.2,490.5 L221.6,492.6 L221.6,488.4 Z" fill="#111" stroke="none"/>
<path d="M254.6,490.5 L314.5,490.5" class="d"/>
<path d="M254.6,490.5 L263.2,488.4 L263.2,492.6 Z" fill="#111" stroke="none"/>
<text x="285.8" y="488.0" font-size="12" letter-spacing="2" text-anchor="start">Ø27</text>
<path d="M483.2,392.4 L483.2,479.0" class="d"/>
<path d="M483.2,392.4 L485.2,401.0 L481.1,401.0 Z" fill="#111" stroke="none"/>
<path d="M483.2,479.0 L481.1,470.4 L485.2,470.4 Z" fill="#111" stroke="none"/>
<path d="M464.0,392.3 L486.0,392.3" class="d"/>
<path d="M417.5,479.0 L486.0,479.0" class="d"/>
<text x="480.2" y="443.0" font-size="12" letter-spacing="0.4" text-anchor="start" transform="rotate(-90 480.2 443.0)">71</text>
<path d="M434.0,468.0 L434.0,479.0" class="d"/>
<path d="M434.0,479.0 L431.9,471.0 L436.1,471.0 Z" fill="#111" stroke="none"/>
<path d="M405.0,500.8 L436.0,500.8" class="d"/>
<path d="M434.0,500.8 L434.0,572.5" class="d"/>
<path d="M434.0,500.8 L436.1,509.4 L431.9,509.4 Z" fill="#111" stroke="none"/>
<text x="431.4" y="572.2" font-size="12" letter-spacing="2.4" text-anchor="start" transform="rotate(-90 431.4 572.2)">MAX. 36</text>
<path d="M501.8,143.4 L501.8,477.8" class="d"/>
<path d="M501.8,143.4 L503.9,152.0 L499.8,152.0 Z" fill="#111" stroke="none"/>
<path d="M501.8,477.8 L499.8,469.2 L503.9,469.2 Z" fill="#111" stroke="none"/>
<path d="M499.5,143.4 L637.0,143.4" class="d"/>
<text x="499.6" y="331.6" font-size="12" letter-spacing="1.7" text-anchor="start" transform="rotate(-90 499.6 331.6)">277</text>
<path d="M538.6,331.0 L734.4,331.0" class="d"/>
<path d="M538.6,331.0 L547.2,328.9 L547.2,333.1 Z" fill="#111" stroke="none"/>
<path d="M734.4,331.0 L725.8,333.1 L725.8,328.9 Z" fill="#111" stroke="none"/>
<path d="M538.6,328.0 L538.6,464.5" class="d"/>
<path d="M734.4,288.5 L734.4,333.5" class="d"/>
<text x="624.2" y="329.4" font-size="12" letter-spacing="1.7" text-anchor="start">160</text>
<path d="M509.5,534.2 L527.0,534.2" class="d"/>
<path d="M527.3,534.2 L518.7,536.2 L518.7,532.2 Z" fill="#111" stroke="none"/>
<path d="M551.8,534.2 L651.5,534.2" class="d"/>
<path d="M551.8,534.2 L560.4,532.2 L560.4,536.2 Z" fill="#111" stroke="none"/>
<text x="569.4" y="531.4" font-size="12" letter-spacing="2.05" text-anchor="start">M. 26 x 1&#39;5</text>
<text x="426.6" y="635.6" font-size="14" letter-spacing="2.5" text-anchor="start">600</text>
<path d="M400.6,639.6 L487.8,639.6" class="d"/>
<path d="M400.6,639.6 L409.2,637.6 L409.2,641.6 Z" fill="#111" stroke="none"/>
<path d="M487.8,639.6 L479.2,641.6 L479.2,637.6 Z" fill="#111" stroke="none"/>
<text x="294.8" y="687.4" font-size="14" letter-spacing="2.5" text-anchor="start">800</text>
<path d="M268.4,691.2 L355.6,691.2" class="d"/>
<path d="M268.4,691.2 L277.0,689.2 L277.0,693.2 Z" fill="#111" stroke="none"/>
<path d="M355.6,691.2 L347.0,693.2 L347.0,689.2 Z" fill="#111" stroke="none"/>
<text x="524.2" y="687.6" font-size="14" letter-spacing="2.7" text-anchor="start">2000</text>
<path d="M497.8,691.2 L586.0,691.2" class="d"/>
<path d="M497.8,691.2 L506.4,689.2 L506.4,693.2 Z" fill="#111" stroke="none"/>
<path d="M586.0,691.2 L577.4,693.2 L577.4,689.2 Z" fill="#111" stroke="none"/>
<path d="M650.0,463.0 L668.0,463.0" class="d"/>
<path d="M668.0,463.0 L659.4,465.1 L659.4,460.9 Z" fill="#111" stroke="none"/>
<path d="M719.6,463.0 L786.5,463.0" class="d"/>
<path d="M719.6,463.0 L728.2,460.9 L728.2,465.1 Z" fill="#111" stroke="none"/>
<path d="M668.0,460.6 L668.0,474.6" class="d"/>
<path d="M719.4,460.6 L719.4,474.6" class="d"/>
<text x="757.4" y="460.8" font-size="12" letter-spacing="2" text-anchor="start">Ø57</text>
<path d="M663.0,492.0 L681.0,492.0" class="d"/>
<path d="M681.3,492.0 L672.7,494.1 L672.7,489.9 Z" fill="#111" stroke="none"/>
<path d="M707.0,492.0 L784.5,492.0" class="d"/>
<path d="M707.0,492.0 L715.6,489.9 L715.6,494.1 Z" fill="#111" stroke="none"/>
<text x="755.4" y="489.2" font-size="12" letter-spacing="2" text-anchor="start">Ø28</text>
<path d="M661.6,513.0 L679.6,513.0" class="d"/>
<path d="M679.9,513.0 L671.3,515.0 L671.3,510.9 Z" fill="#111" stroke="none"/>
<path d="M707.9,513.0 L780.0,513.0" class="d"/>
<path d="M707.9,513.0 L716.5,510.9 L716.5,515.0 Z" fill="#111" stroke="none"/>
<text x="710.6" y="511.2" font-size="12" letter-spacing="2.4" text-anchor="start">1-1/8&quot;-19</text>
<text x="775.6" y="754.3" font-size="17" style="stroke-width:.22px">073816.ML0</text></g>
<text x="359.1" y="547.9" font-size="19" letter-spacing="3.7" transform="rotate(-45 359.1 547.9)" style="fill:#b6b6b6;stroke:#b6b6b6;stroke-width:.5px">eden-interiorworld.com</text>
</svg>
</body></html>
